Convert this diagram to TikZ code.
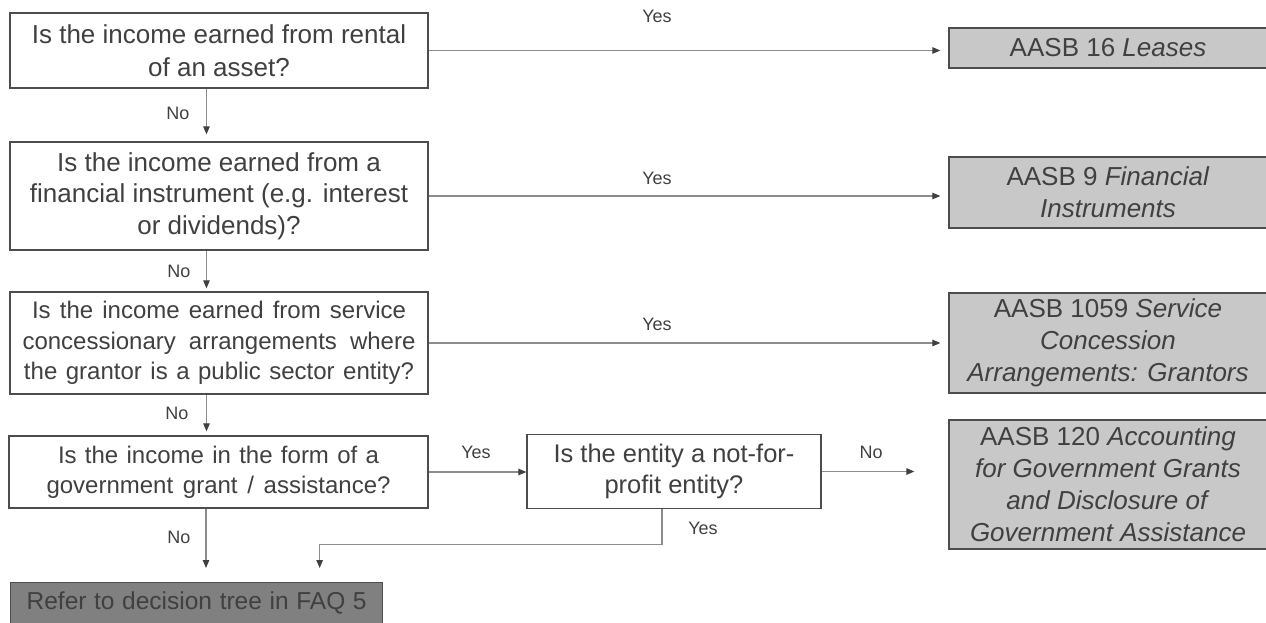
\documentclass[tikz,border=0pt]{standalone}
\usepackage{fontspec}
\setmainfont{Liberation Sans}
\usetikzlibrary{arrows.meta}
\definecolor{txt}{HTML}{404040}
\definecolor{bord}{HTML}{4D4D4D}
\definecolor{connc}{HTML}{8C8C8C}
\definecolor{tipc}{HTML}{404040}
\definecolor{lightfill}{HTML}{C8C8C8}
\definecolor{darkfill}{HTML}{808080}
\begin{document}
\begin{tikzpicture}[x=1pt,y=-1pt,
 qbox/.style={draw=bord, line width=1.3pt, fill=white, text=txt, align=center, inner sep=0pt, minimum width=418pt},
 rbox/.style={draw=bord, line width=1.3pt, fill=lightfill, text=txt, align=center, inner sep=0pt, minimum width=318pt, font=\fontsize{26}{32}\selectfont},
 link/.style={draw=connc, line width=1.1pt, -{Triangle[length=8pt,width=6.5pt,color=tipc]}},
 lbl/.style={text=txt, font=\fontsize{18}{20}\selectfont, inner sep=0pt}
]
\useasboundingbox (0,0) rectangle (1266,622);

% question boxes
\node[qbox, minimum height=75pt, font=\fontsize{26}{33}\selectfont] (b1) at (219,50.5) {Is the income earned from rental\\of an asset?};
\node[qbox, minimum height=108pt, font=\fontsize{26}{31.5}\selectfont] (b2) at (219,196) {Is the income earned from a\\financial instrument (e.g. interest\\or dividends)?};
\node[qbox, minimum height=102pt, font=\fontsize{24}{30.5}\selectfont] (b3) at (219,343) {\makebox[374pt][s]{Is the income earned from service}\\\makebox[393pt][s]{concessionary arrangements where}\\\makebox[390pt][s]{the grantor is a public sector entity?}};
\node[qbox, minimum width=419pt, minimum height=72pt, font=\fontsize{24}{30}\selectfont] (b4) at (218.5,472) {\makebox[321pt][s]{Is the income in the form of a}\\\makebox[344pt][s]{government grant / assistance?}};
\node[qbox, minimum width=294pt, minimum height=74pt, font=\fontsize{25.5}{31}\selectfont] (nfp) at (674,471.5) {Is the entity a not-for-\\profit entity?};

% result boxes
\node[rbox, minimum height=40pt] (r1) at (1108,48) {AASB 16 \textit{Leases}};
\node[rbox, minimum height=71pt] (r2) at (1108,192.5) {AASB 9 \textit{Financial}\\\textit{Instruments}};
\node[rbox, minimum height=100pt] (r3) at (1108,343) {AASB 1059 \textit{Service}\\\textit{Concession}\\\textit{Arrangements: Grantors}};
\node[rbox, minimum height=129pt] (r4) at (1108,484.5) {AASB 120 \textit{Accounting}\\\textit{for Government Grants}\\\textit{and Disclosure of}\\\textit{Government Assistance}};
\node[draw=bord, line width=1.3pt, fill=darkfill, text=txt, anchor=north west, inner xsep=0pt, inner ysep=4pt, minimum width=372pt, text height=22.5pt, text depth=13.5pt, font=\fontsize{24.5}{30}\selectfont] (ref) at (10,582) {\makebox[340pt][s]{Refer to decision tree in FAQ 5}};

% Yes connectors
\draw[link, shorten >=8pt] (b1.east) -- (b1.east -| r1.west);
\draw[link, shorten >=8pt] (b2.east) -- (b2.east -| r2.west);
\draw[link, shorten >=8pt] (b3.east) -- (b3.east -| r3.west);
\draw[link] (b4.east) -- (b4.east -| nfp.west);
\draw[link, shorten >=34pt] (nfp.east) -- (nfp.east -| r4.west);

% No connectors
\draw[link, shorten >=7pt] ([xshift=-12.5pt]b1.south) -- ([xshift=-12.5pt]b1.south |- b2.north);
\draw[link, shorten >=3pt] ([xshift=-12.5pt]b2.south) -- ([xshift=-12.5pt]b2.south |- b3.north);
\draw[link, shorten >=4pt] ([xshift=-12.5pt]b3.south) -- ([xshift=-12.5pt]b3.south |- b4.north);
\draw[link, shorten >=14pt] ([xshift=-12.5pt]b4.south) -- ([xshift=-12.5pt]b4.south |- ref.north);
\draw[link, shorten >=14pt] ([xshift=-12pt]nfp.south) -- ++(0,35) -| ([xshift=123pt]ref.north);

% labels
\node[lbl] (y1) at (657,16) {Yes};
\node[lbl] (y2) at (657,178) {Yes};
\node[lbl] (y3) at (657,324) {Yes};
\node[lbl] (y4) at (476,452) {Yes};
\node[lbl] (y5) at (703,528) {Yes};
\node[lbl] (n5) at (871,452) {No};
\node[lbl] (n1) at (178,113) {No};
\node[lbl] (n2) at (179,271) {No};
\node[lbl] (n3) at (177,413) {No};
\node[lbl] (n4) at (179,537) {No};
\end{tikzpicture}
\end{document}
